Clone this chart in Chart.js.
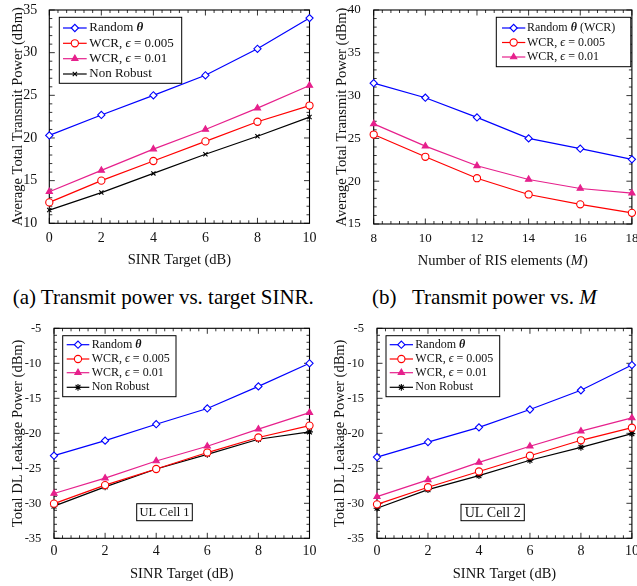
<!DOCTYPE html>
<html><head><meta charset="utf-8">
<script src="https://cdn.jsdelivr.net/npm/chart.js@4"></script>
<style>
body{margin:0;background:#fff}
#wrap{position:relative;width:637px;height:586px;overflow:hidden;background:#fff}
canvas{position:absolute}
.cap{position:absolute;font-family:'Liberation Serif','Times New Roman',serif;font-size:21px;line-height:21px;white-space:pre;color:#000}
</style></head><body>
<div id="wrap">
<canvas id="ca" width="318" height="275" style="left:0;top:0"></canvas>
<canvas id="cb" width="319" height="275" style="left:318px;top:0"></canvas>
<canvas id="cc" width="318" height="271" style="left:0;top:315px"></canvas>
<canvas id="cd" width="319" height="271" style="left:318px;top:315px"></canvas>
<div class="cap" style="left:12.7px;top:287.4px">(a) Transmit power vs. target SINR.</div>
<div class="cap" style="left:372px;top:287.4px">(b)<span style="margin-left:15.5px">Transmit power vs. <i>M</i></span></div>
</div>
<script>
// ---------- data ----------
const sinrTargets = [0, 2, 4, 6, 8, 10];
const risElements = [8, 10, 12, 14, 16, 18];
const sinrTicks = [0, 2, 4, 6, 8, 10];
const risTicks = [8, 10, 12, 14, 16, 18];
const powerTicksA = [10, 15, 20, 25, 30, 35];
const powerTicksB = [15, 20, 25, 30, 35, 40];
const leakTicks = [-35, -30, -25, -20, -15, -10, -5];

const labelsA = ['Random θ', 'WCR, ϵ = 0.005', 'WCR, ϵ = 0.01', 'Non Robust'];
const labelsB = ['Random θ (WCR)', 'WCR, ϵ = 0.005', 'WCR, ϵ = 0.01'];

// (a) transmit power vs SINR target
const powerRandom    = [20.3, 22.7, 25.0, 27.35, 30.45, 34.05];
const powerWcr005    = [12.45, 15.0, 17.3, 19.6, 21.9, 23.8];
const powerWcr01     = [13.7, 16.2, 18.7, 21.0, 23.5, 26.15];
const powerNonRobust = [11.55, 13.6, 15.85, 18.1, 20.2, 22.45];
// (b) transmit power vs M
const risRandomWcr = [31.45, 29.75, 27.45, 25.0, 23.8, 22.55];
const risWcr005    = [25.45, 22.85, 20.35, 18.45, 17.3, 16.3];
const risWcr01     = [26.7, 24.1, 21.8, 20.2, 19.15, 18.6];
// (c) UL cell 1 leakage
const cell1Random    = [-23.2, -21.05, -18.7, -16.45, -13.3, -10.0];
const cell1Wcr005    = [-30.05, -27.4, -25.1, -22.75, -20.6, -18.9];
const cell1Wcr01     = [-28.6, -26.4, -23.95, -21.85, -19.4, -17.05];
const cell1NonRobust = [-30.4, -27.65, -25.1, -23.0, -20.85, -19.8];
// (d) UL cell 2 leakage
const cell2Random    = [-23.4, -21.25, -19.15, -16.6, -13.85, -10.25];
const cell2Wcr005    = [-30.15, -27.7, -25.45, -23.2, -21.0, -19.2];
const cell2Wcr01     = [-29.05, -26.65, -24.15, -21.85, -19.7, -17.8];
const cell2NonRobust = [-30.7, -28.05, -26.05, -23.85, -22.0, -20.05];

// ---------- styles ----------
const FAM = "'Liberation Serif','DejaVu Serif',serif";
Chart.defaults.font.family = FAM;
Chart.defaults.color = '#111';
const BLUE = '#0000ff', RED = '#ff0000', MAG = '#e6208c', BLACK = '#000000';
const styleRandom = {color: BLUE, fill: '#ffffff', marker: 'rectRot', radius: 3.6};
const styleWcr005 = {color: RED, fill: '#ffffff', marker: 'circle', radius: 3.6};
const styleWcr01  = {color: MAG, fill: MAG, marker: 'triangle', radius: 3.6};
const styleCross  = {color: BLACK, fill: BLACK, marker: 'crossRot', radius: 3};
const styleStar   = {color: BLACK, fill: BLACK, marker: 'star', radius: 3.4};

function drawSegs(ctx, segs, x, y, size, align) {
  const fonts = segs.map(s => (s[1] ? s[1] + ' ' : '') + size + 'px ' + FAM);
  const widths = segs.map((s, i) => { ctx.font = fonts[i]; return ctx.measureText(s[0]).width; });
  const total = widths.reduce((a, b) => a + b, 0);
  let cx = align === 'center' ? x - total / 2 : x;
  ctx.textBaseline = 'middle'; ctx.textAlign = 'left';
  segs.forEach((s, i) => { ctx.font = fonts[i]; ctx.fillText(s[0], cx, y); cx += widths[i]; });
}
function labelSegs(label) {
  return label.split(/([θϵ])/).filter(s => s).map(s => [s, s === 'θ' ? 'italic bold' : (s === 'ϵ' ? 'italic' : '')]);
}

const pgfPlugin = {
  id: 'pgf',
  beforeDatasetsDraw(chart, args, o) {
    const {ctx, chartArea: a, scales: {x, y}} = chart;
    ctx.save();
    ctx.strokeStyle = '#000';
    ctx.lineWidth = 0.8;
    ctx.beginPath();
    const xr = x.max - x.min, yr = y.max - y.min;
    const nx = Math.round(xr / o.xMinor), ny = Math.round(yr / o.yMinor);
    for (let i = 0; i <= nx; i++) {
      const v = x.min + i * o.xMinor;
      const major = x.ticks.some(t => Math.abs(t.value - v) < 1e-6);
      const len = major ? 5.5 : 3;
      const px = x.getPixelForValue(v);
      ctx.moveTo(px, a.bottom); ctx.lineTo(px, a.bottom - len);
      ctx.moveTo(px, a.top); ctx.lineTo(px, a.top + len);
    }
    for (let i = 0; i <= ny; i++) {
      const v = y.min + i * o.yMinor;
      const major = y.ticks.some(t => Math.abs(t.value - v) < 1e-6);
      const len = major ? 5.5 : 3;
      const py = y.getPixelForValue(v);
      ctx.moveTo(a.left, py); ctx.lineTo(a.left + len, py);
      ctx.moveTo(a.right, py); ctx.lineTo(a.right - len, py);
    }
    ctx.stroke();
    ctx.lineWidth = 1.1;
    ctx.strokeRect(a.left, a.top, a.right - a.left, a.bottom - a.top);
    ctx.restore();
  },
  afterDatasetsDraw(chart, args, o) {
    const ctx = chart.ctx;
    const L = o.legend;
    ctx.save();
    ctx.fillStyle = '#fff';
    ctx.fillRect(L.x, L.y, L.w, L.h);
    ctx.strokeStyle = '#000'; ctx.lineWidth = 1;
    ctx.strokeRect(L.x, L.y, L.w, L.h);
    chart.data.datasets.forEach((ds, i) => {
      const ry = L.rows[i];
      ctx.strokeStyle = ds.borderColor; ctx.lineWidth = ds.borderWidth;
      ctx.beginPath(); ctx.moveTo(L.x0, ry); ctx.lineTo(L.x1, ry); ctx.stroke();
      ctx.fillStyle = ds.pointBackgroundColor; ctx.strokeStyle = ds.pointBorderColor; ctx.lineWidth = ds.pointBorderWidth;
      Chart.helpers.drawPoint(ctx, {pointStyle: ds.pointStyle, radius: ds.pointRadius, rotation: 0, borderWidth: ds.pointBorderWidth}, (L.x0 + L.x1) / 2, ry);
      ctx.fillStyle = '#111';
      drawSegs(ctx, labelSegs(ds.label), L.tx, ry, L.size, 'left');
    });
    if (o.note) {
      const N = o.note;
      ctx.fillStyle = '#fff'; ctx.fillRect(N.x, N.y, N.w, N.h);
      ctx.strokeStyle = '#000'; ctx.lineWidth = 1; ctx.strokeRect(N.x, N.y, N.w, N.h);
      ctx.fillStyle = '#111';
      drawSegs(ctx, [[N.text, '']], N.x + N.w / 2, N.y + N.h / 2 + 0.5, N.size, 'center');
    }
    if (o.xTitle) {
      const a = chart.chartArea;
      ctx.fillStyle = '#111';
      drawSegs(ctx, o.xTitle.segs, (a.left + a.right) / 2, o.xTitle.y, o.xTitle.size, 'center');
    }
    ctx.restore();
  }
};

function makeChart(id, c) {
  return new Chart(document.getElementById(id), {
    type: 'line',
    data: {
      datasets: c.series.map(s => ({
        label: s.label,
        data: c.xs.map((xv, i) => ({x: xv, y: s.values[i]})),
        borderColor: s.style.color,
        backgroundColor: s.style.fill,
        pointBorderColor: s.style.color,
        pointBackgroundColor: s.style.fill,
        pointStyle: s.style.marker,
        pointRadius: s.style.radius,
        pointBorderWidth: 1.1,
        borderWidth: 1.2,
        tension: 0,
        fill: false,
        clip: false
      }))
    },
    options: {
      responsive: false, animation: false, devicePixelRatio: 1,
      layout: {padding: c.padding},
      plugins: {legend: {display: false}, tooltip: {enabled: false}, pgf: c.pgf},
      scales: {
        x: {
          type: 'linear', min: c.xTicks[0], max: c.xTicks[c.xTicks.length - 1],
          afterBuildTicks: s => { s.ticks = c.xTicks.map(v => ({value: v})); },
          afterFit: s => { s.height = c.xHeight; s.paddingLeft = 0; s.paddingRight = 0; },
          grid: {display: false}, border: {display: false},
          ticks: {font: {size: c.xTickSize}, color: '#111', padding: c.xTickPad, maxRotation: 0, autoSkip: false},
          title: c.xTitle ? {display: true, text: c.xTitle, font: {size: 14.5}, color: '#111', padding: {top: 0, bottom: c.xTitlePad}} : {display: false}
        },
        y: {
          type: 'linear', min: c.yTicks[0], max: c.yTicks[c.yTicks.length - 1],
          afterBuildTicks: s => { s.ticks = c.yTicks.map(v => ({value: v})); },
          afterFit: s => { s.width = c.yWidth; s.paddingTop = 0; s.paddingBottom = 0; },
          grid: {display: false}, border: {display: false},
          ticks: {font: {size: c.yTickSize}, color: '#111', padding: c.yTickPad, autoSkip: false},
          title: {display: true, text: c.yTitle, font: {size: 14.5}, color: '#111', padding: {top: c.yTitlePad, bottom: 0}}
        }
      }
    },
    plugins: [pgfPlugin]
  });
}

makeChart('ca', {
  xs: sinrTargets, xTicks: sinrTicks, yTicks: powerTicksA,
  series: [
    {label: labelsA[0], values: powerRandom, style: styleRandom},
    {label: labelsA[1], values: powerWcr005, style: styleWcr005},
    {label: labelsA[2], values: powerWcr01, style: styleWcr01},
    {label: labelsA[3], values: powerNonRobust, style: styleCross}
  ],
  padding: {top: 10, right: 8.5, left: 0, bottom: 0},
  xHeight: 51.7, yWidth: 49.3,
  xTickSize: 14, yTickSize: 14, xTickPad: -1.6, yTickPad: 4,
  xTitle: 'SINR Target (dB)', xTitlePad: 5.8,
  yTitle: 'Average Total Transmit Power (dBm)', yTitlePad: 9.6,
  pgf: {xMinor: 1 / 3, yMinor: 1,
        legend: {x: 59.3, y: 17.3, w: 122.4, h: 66, rows: [28, 43.3, 58.7, 74], x0: 63, x1: 86.7, tx: 89.3, size: 13}}
});

makeChart('cb', {
  xs: risElements, xTicks: risTicks, yTicks: powerTicksB,
  series: [
    {label: labelsB[0], values: risRandomWcr, style: styleRandom},
    {label: labelsB[1], values: risWcr005, style: styleWcr005},
    {label: labelsB[2], values: risWcr01, style: styleWcr01}
  ],
  padding: {top: 10, right: 3, left: 0, bottom: 0},
  xHeight: 51, yWidth: 55.7,
  xTickSize: 13, yTickSize: 13, xTickPad: -1.6, yTickPad: 5,
  xTitle: null,
  yTitle: 'Average Total Transmit Power (dBm)', yTitlePad: 15.3,
  pgf: {xMinor: 1 / 3, yMinor: 1,
        legend: {x: 178.3, y: 17.3, w: 134.5, h: 49.4, rows: [28, 42.5, 57], x0: 184, x1: 207.3, tx: 209, size: 12},
        xTitle: {segs: [['Number of RIS elements (', ''], ['M', 'italic'], [')', '']], y: 261.5, size: 14.5}}
});

makeChart('cc', {
  xs: sinrTargets, xTicks: sinrTicks, yTicks: leakTicks,
  series: [
    {label: labelsA[0], values: cell1Random, style: styleRandom},
    {label: labelsA[1], values: cell1Wcr005, style: styleWcr005},
    {label: labelsA[2], values: cell1Wcr01, style: styleWcr01},
    {label: labelsA[3], values: cell1NonRobust, style: styleStar}
  ],
  padding: {top: 13.3, right: 8.5, left: 0, bottom: 0},
  xHeight: 47.7, yWidth: 54,
  xTickSize: 14, yTickSize: 12.5, xTickPad: -3.6, yTickPad: 4.7,
  xTitle: 'SINR Target (dB)', xTitlePad: 3.5,
  yTitle: 'Total DL Leakage Power (dBm)', yTitlePad: 9.6,
  pgf: {xMinor: 1 / 3, yMinor: 1,
        legend: {x: 62.7, y: 20.7, w: 113.3, h: 61, rows: [29.7, 44, 57.7, 72.3], x0: 66.7, x1: 89.3, tx: 91.7, size: 12},
        note: {text: 'UL Cell 1', x: 136.7, y: 188.7, w: 55.6, h: 17, size: 12.5}}
});

makeChart('cd', {
  xs: sinrTargets, xTicks: sinrTicks, yTicks: leakTicks,
  series: [
    {label: labelsA[0], values: cell2Random, style: styleRandom},
    {label: labelsA[1], values: cell2Wcr005, style: styleWcr005},
    {label: labelsA[2], values: cell2Wcr01, style: styleWcr01},
    {label: labelsA[3], values: cell2NonRobust, style: styleStar}
  ],
  padding: {top: 13.3, right: 4, left: 0, bottom: 0},
  xHeight: 47.7, yWidth: 59,
  xTickSize: 14, yTickSize: 12.5, xTickPad: -3.6, yTickPad: 5,
  xTitle: 'SINR Target (dB)', xTitlePad: 3.5,
  yTitle: 'Total DL Leakage Power (dBm)', yTitlePad: 13.6,
  pgf: {xMinor: 1 / 3, yMinor: 1,
        legend: {x: 68, y: 20.7, w: 113.7, h: 61, rows: [29.7, 44, 57.7, 72.3], x0: 71.7, x1: 95, tx: 97.3, size: 12},
        note: {text: 'UL Cell 2', x: 143, y: 189.3, w: 63.3, h: 16.4, size: 14}}
});
</script>
</body></html>
